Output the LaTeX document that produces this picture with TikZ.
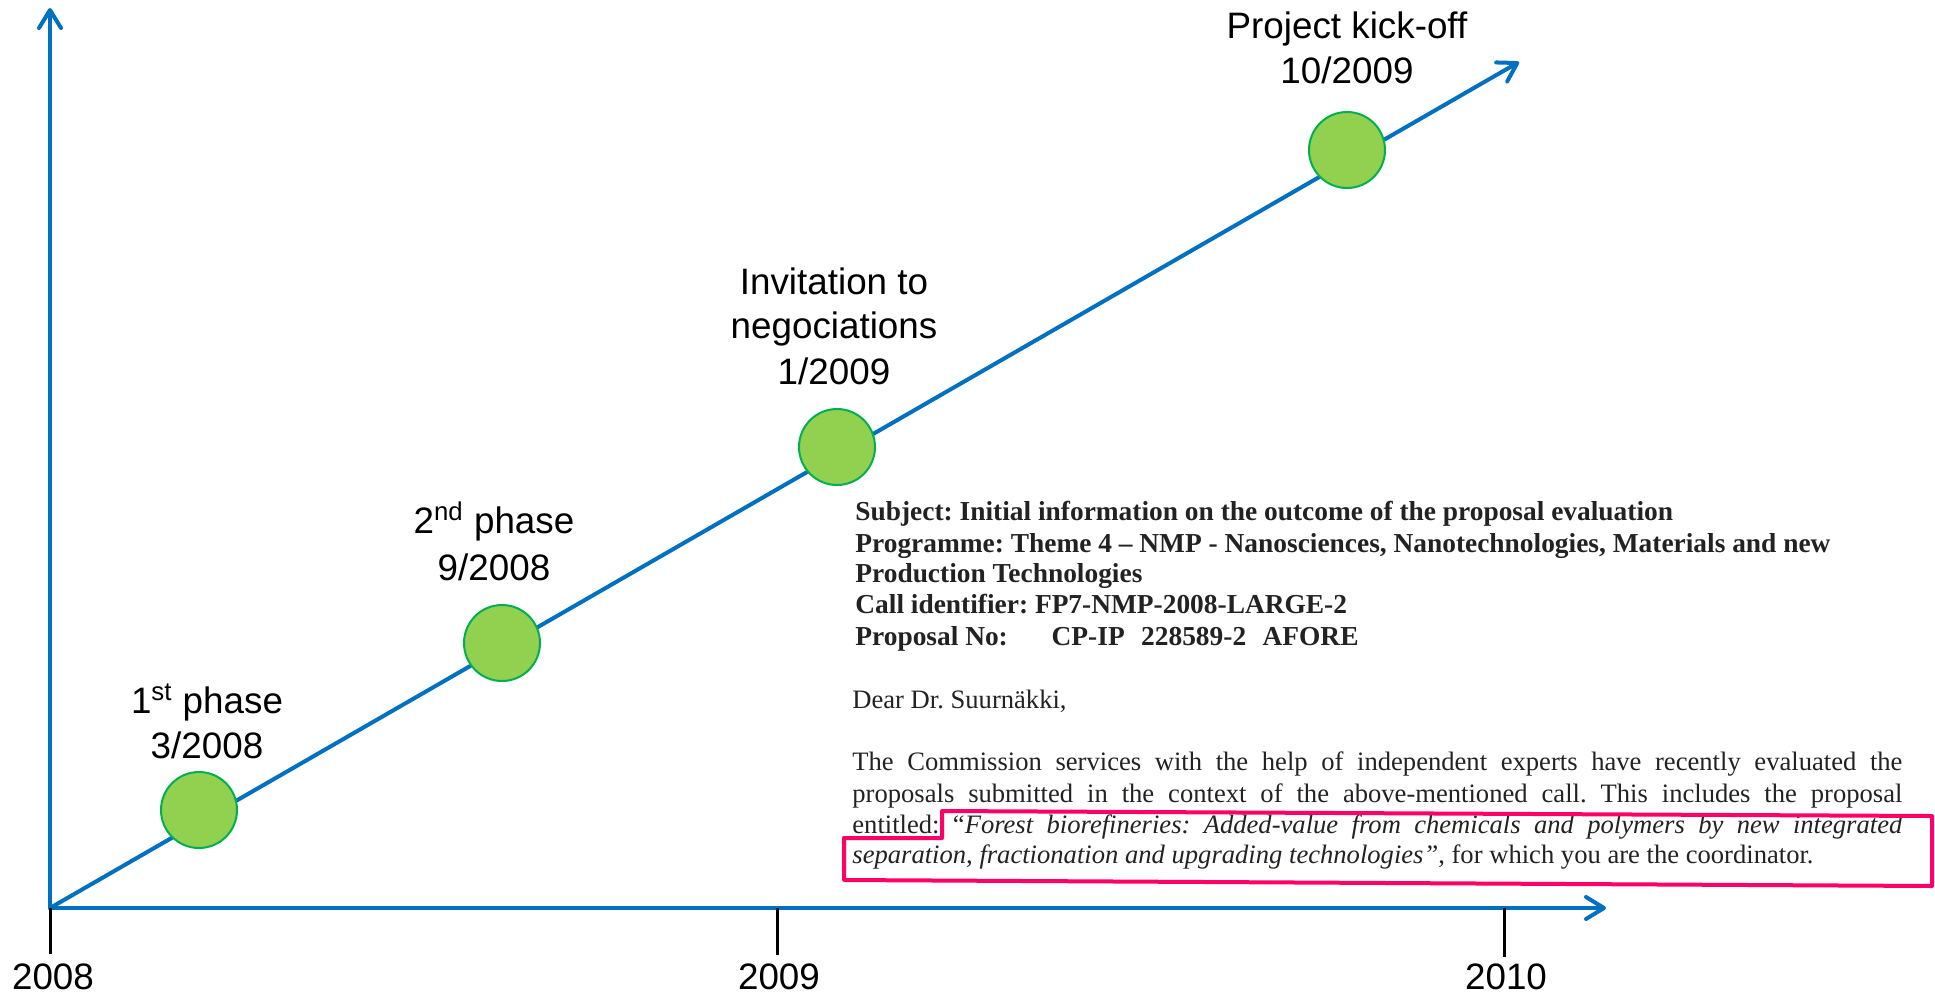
\documentclass[tikz,border=0pt]{standalone}
\usepackage{fontspec}
\setmainfont{Liberation Serif}
\newfontfamily\labelfont{Liberation Sans}
\usetikzlibrary{arrows.meta}
\definecolor{axisblue}{HTML}{0070C0}
\definecolor{msfill}{HTML}{92D050}
\definecolor{msdraw}{HTML}{00B050}
\definecolor{boxpink}{HTML}{FF0066}
\definecolor{lettergray}{HTML}{222222}
\begin{document}
\frenchspacing
\begin{tikzpicture}[x=0.5pt,y=-0.5pt,
  axisline/.style={draw=axisblue,line width=2pt,line cap=round,
    -{Straight Barb[length=9pt,width=11pt,line width=2pt,round]}},
  tickline/.style={draw=black,line width=1.5pt},
  milestone/.style={circle,fill=msfill,draw=msdraw,line width=1pt,minimum size=38pt,inner sep=0pt},
  lbl/.style={anchor=base,inner sep=0pt,font=\labelfont\fontsize{18.4}{22}\selectfont},
  yearlbl/.style={anchor=base,inner sep=0pt,font=\labelfont\fontsize{18.4}{22}\selectfont},
  letterb/.style={anchor=base west,inner sep=0pt,text=lettergray,font=\fontsize{13.7}{15.5}\selectfont\bfseries\frenchspacing},
  letter/.style={anchor=base west,inner sep=0pt,text=lettergray,font=\fontsize{13.3}{15.5}\selectfont\frenchspacing},
  pinkbox/.style={draw=boxpink,line width=2pt,line join=round}
]
\useasboundingbox (0,0) rectangle (1935,993);

% axes
\coordinate (O) at (50,908);
\coordinate (ytip) at (50,8);
\coordinate (xtip) at (1606,908);
\coordinate (dtip) at (1519,62);
\draw[axisline] (O) -- (ytip);
\draw[axisline] (O) -- (xtip);
\draw[axisline] (O) -- (dtip);

% ticks
\coordinate (t8a) at (50,908);  \coordinate (t8b) at (50,954);
\coordinate (t9a) at (777,908); \coordinate (t9b) at (777,955);
\coordinate (t0a) at (1504,908); \coordinate (t0b) at (1504,957);
\draw[tickline] (t8a) -- (t8b);
\draw[tickline] (t9a) -- (t9b);
\draw[tickline] (t0a) -- (t0b);
\node[yearlbl] (y2008) at (53,989) {2008};
\node[yearlbl] (y2009) at (779,989) {2009};
\node[yearlbl] (y2010) at (1506,989) {2010};

% milestones
\node[milestone] (m1) at (199,810) {};
\node[milestone] (m2) at (502,643) {};
\node[milestone] (m3) at (837,447) {};
\node[milestone] (m4) at (1347,150) {};

% labels
\node[lbl] (l1a) at (207,713) {1\textsuperscript{st} phase};
\node[lbl] (l1b) at (207,758) {3/2008};
\node[lbl] (l2a) at (494,533) {2\textsuperscript{nd} phase};
\node[lbl] (l2b) at (494,580) {9/2008};
\node[lbl] (l3a) at (834,294) {Invitation to};
\node[lbl] (l3b) at (834,338) {negociations};
\node[lbl] (l3c) at (834,384) {1/2009};
\node[lbl] (l4a) at (1347,38) {Project kick-off};
\node[lbl] (l4b) at (1347,83) {10/2009};

% letter excerpt
\node[letterb] (s1) at (855,520) {Subject: Initial information on the outcome of the proposal evaluation};
\node[letterb] (s2) at (855,552) {Programme: Theme 4 -- NMP - Nanosciences, Nanotechnologies, Materials and new};
\node[letterb] (s3) at (855,582) {Production Technologies};
\node[letterb] (s4) at (855,613) {Call identifier: FP7-NMP-2008-LARGE-2};
\node[letterb] (s5) at (855,645) {Proposal No:\hspace{1.6em}CP-IP\hspace{0.6em}228589-2\hspace{0.6em}AFORE};
\node[letter] (d1) at (852,708) {Dear Dr. Suurnäkki,};
\node[letter] (p1) at (852,770) {\makebox[525pt][s]{The Commission services with the help of independent experts have recently evaluated the}};
\node[letter] (p2) at (852,802) {\makebox[525pt][s]{proposals submitted in the context of the above-mentioned call. This includes the proposal}};
\node[letter] (p3) at (852,833) {\makebox[525pt][s]{entitled: “\textit{Forest biorefineries: Added-value from chemicals and polymers by new integrated}}};
\node[letter] (p4) at (852,863) {\textit{separation, fractionation and upgrading technologies”}, for which you are the coordinator.};

% highlight box
\draw[pinkbox] (844,838) -- (942,838) -- (942,811) -- (1932,816) -- (1932,886) -- (844,880) -- cycle;
\end{tikzpicture}
\end{document}
